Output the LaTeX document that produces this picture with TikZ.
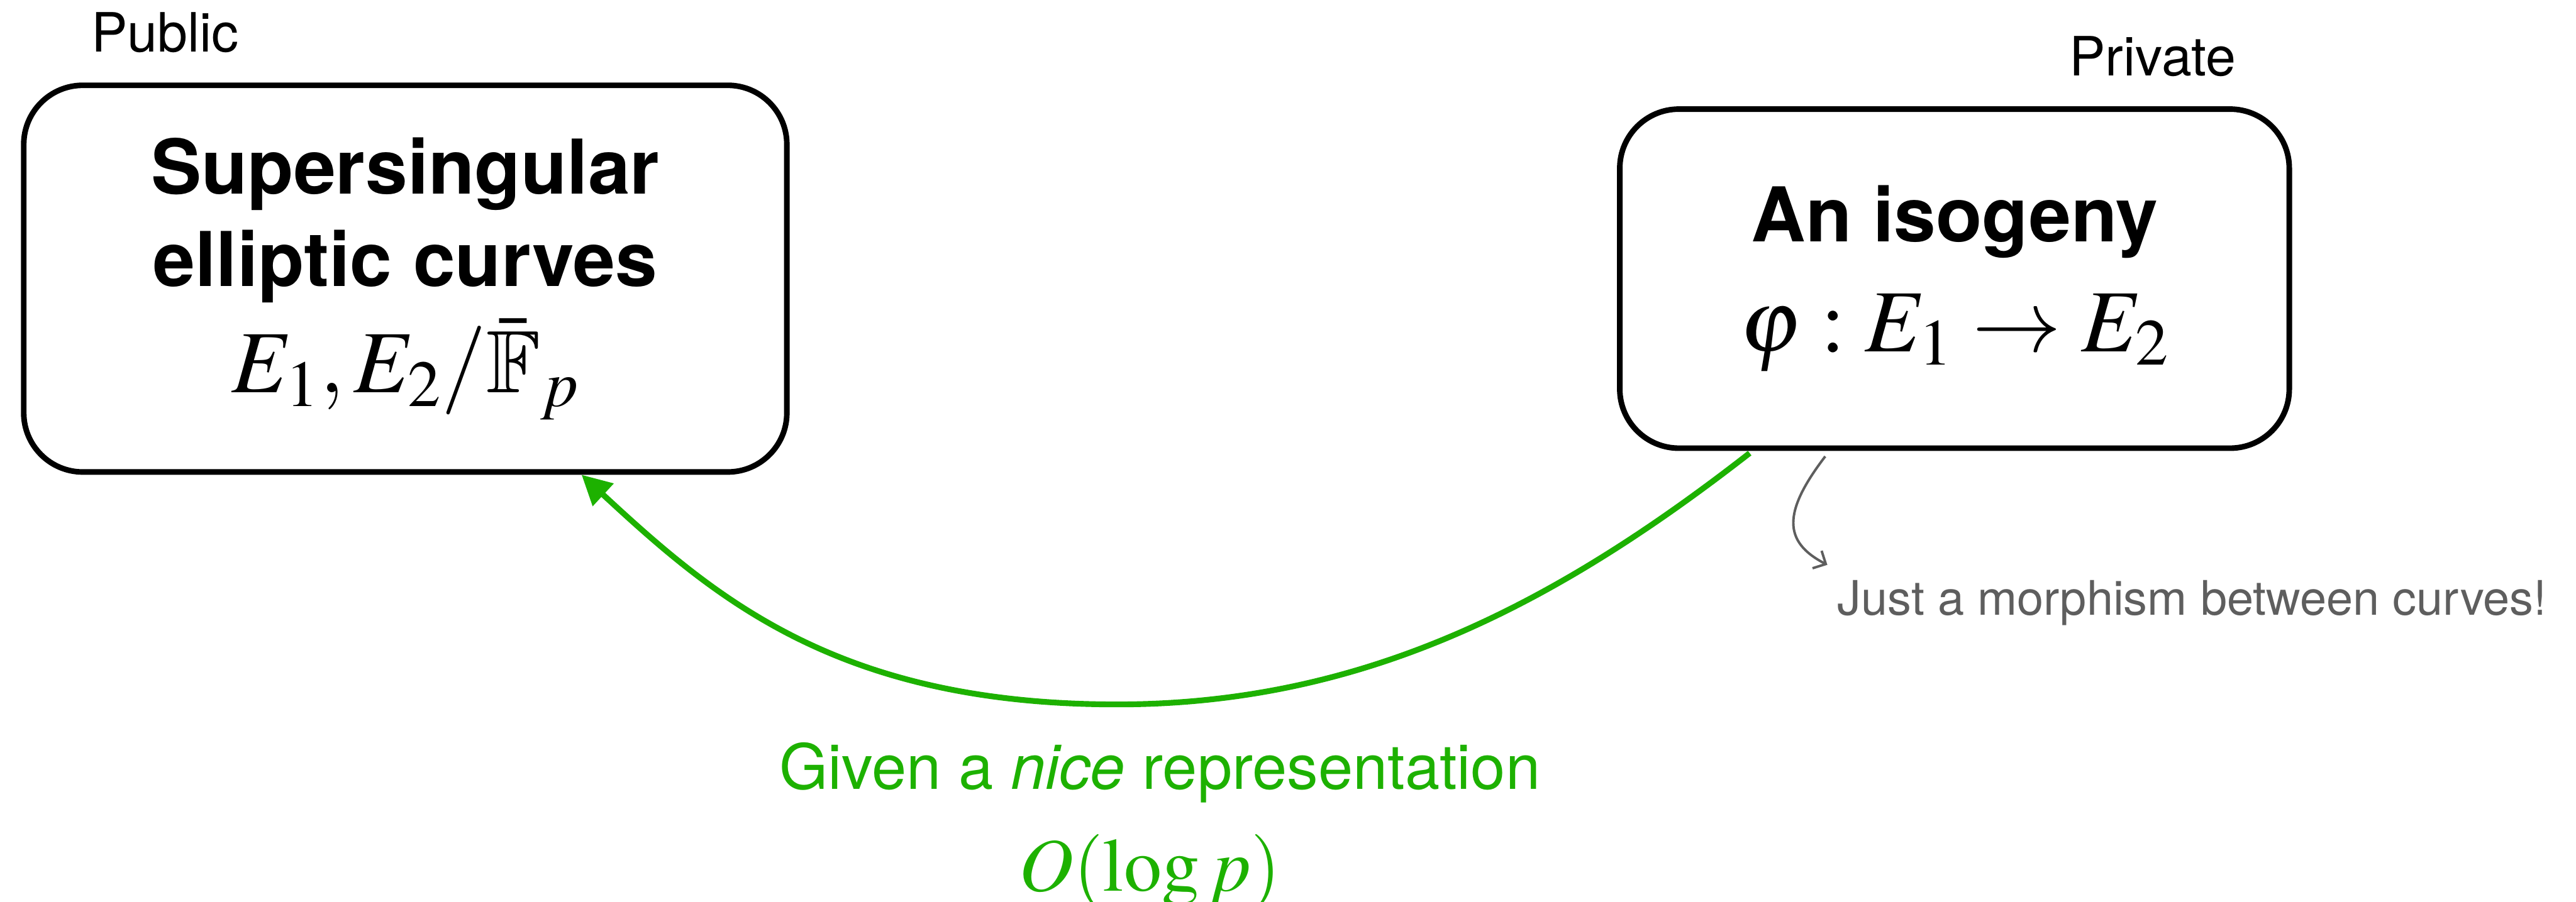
\documentclass[tikz,border=0pt]{standalone}
\usepackage{mathptmx}
\usepackage{amssymb}
\usepackage[no-math]{fontspec}
\setmainfont{TeX Gyre Heros}
\usetikzlibrary{arrows.meta,calc}
\definecolor{GiveClr}{RGB}{29,177,0}
\definecolor{NoteClr}{RGB}{94,94,94}
% blackboard bold at any size
\DeclareFontFamily{U}{msb}{}
\DeclareFontShape{U}{msb}{m}{n}{<->msbm10}{}
\newcommand\FormulaSize{\fontsize{54}{56}\selectfont}
\newcommand\CostSize{\fontsize{46}{50}\selectfont}

\begin{document}
\begin{tikzpicture}[x=1pt,y=-1pt,
  box/.style={draw,line width=3.4pt,rounded corners=36pt,align=center,
    font=\fontsize{46}{56}\selectfont\bfseries},
  tag/.style={anchor=base west,font=\fontsize{33}{40}\selectfont},
  note/.style={anchor=base west,text=NoteClr,font=\fontsize{29}{34}\selectfont},
  given/.style={anchor=base,text=GiveClr,font=\fontsize{38}{44}\selectfont},
  give/.style={GiveClr,line width=3.5pt,-{Triangle[length=18pt,width=18pt]}},
  hint/.style={NoteClr,line width=1.5pt,-{Straight Barb[length=6pt,width=12pt]}}]
\useasboundingbox (0,0) rectangle (1568,549);

% the two boxes
\node[box,minimum width=464.5,minimum height=235.5] (pub) at (246.7,169.7)
  {Supersingular\\elliptic curves\\[9pt]{\FormulaSize$E_1,E_2/\bar{\mathbb{F}}_p$}};
\node[box,minimum width=407.5,minimum height=206.5] (iso) at (1189.7,169.7)
  {An isogeny\\[11pt]{\FormulaSize$\varphi : E_1 \to E_2$}};

\node[tag] (publbl) at (52,31.6) {Public};
\node[tag] (privlbl) at (1256,46) {Private};

% side remark
\coordinate (jm) at (1112.3,344);
\draw[hint] ($(iso.south)+(-78.7,3.3)$) .. controls +(-26,34) and +(-27,-14) .. (jm);
\node[note] (morph) at (1115,374.5) {Just a morphism between curves!};

% going back from private to public
\coordinate (lo) at (680,429);
\draw[give] ($(iso.south)+(-124.7,1.3)$) .. controls +(-118,92) and +(150,0) .. (lo)
  .. controls +(-170,0) and +(81,75) .. ($(pub.south)+(107.3,0)$);

\node[given] (nice) at (706,480.8) {Given a \textit{nice} representation};
\node[given] (cost) at (700,542.7) {\CostSize$O(\log p)$};
\end{tikzpicture}
\end{document}
